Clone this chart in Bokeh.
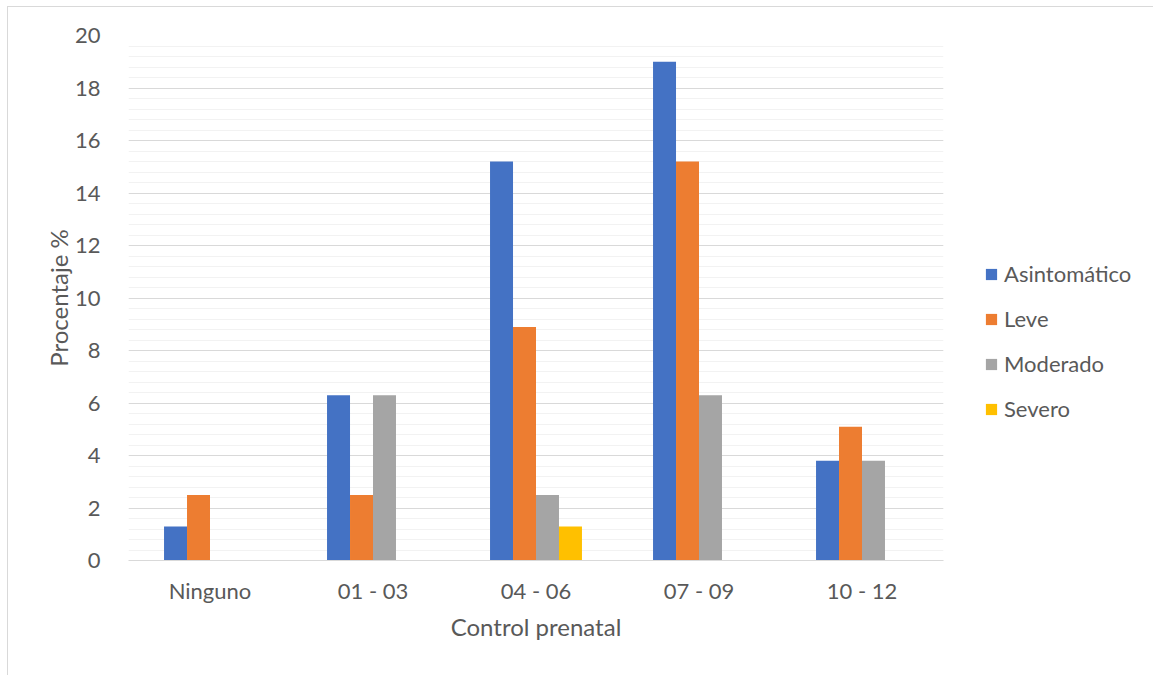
from bokeh.plotting import figure
from bokeh.models import (ColumnDataSource, FactorRange, Range1d, SingleIntervalTicker,
                          Legend, LegendItem)
from bokeh.transform import dodge
from bokeh.embed import file_html
from bokeh.resources import INLINE

# Data: percentage of cases by number of prenatal check-ups and severity
categories = ["Ninguno", "01 - 03", "04 - 06", "07 - 09", "10 - 12"]
asintomatico = [1.3, 6.3, 15.2, 19.0, 3.8]
leve = [2.5, 2.5, 8.9, 15.2, 5.1]
moderado = [0.0, 6.3, 2.5, 6.3, 3.8]
severo = [0.0, 0.0, 1.3, 0.0, 0.0]
series_names = ["Asintomático", "Leve", "Moderado", "Severo"]
series_colors = ["#4472C4", "#ED7D31", "#A5A5A5", "#FFC000"]
y_ticks = [0, 2, 4, 6, 8, 10, 12, 14, 16, 18, 20]

FONT = "Lato"
TEXT = "#595959"

source = ColumnDataSource(dict(cat=categories, a=asintomatico, l=leve,
                               m=moderado, s=severo))

p = figure(
    x_range=FactorRange(*categories, range_padding=0),
    y_range=Range1d(0, 20),
    frame_width=815, frame_height=525,
    min_border_left=120, min_border_right=210,
    min_border_top=28, min_border_bottom=115,
    output_backend="svg", toolbar_location=None,
)
p.styles = {"border-top": "1px solid #d9d9d9", "border-left": "1px solid #d9d9d9",
            "margin-left": "7px", "margin-top": "6px"}
p.outline_line_color = None
p.background_fill_color = "white"
p.border_fill_color = "white"

bar_w = 0.141
cols = ["a", "l", "m", "s"]
offsets = [-1.5 * bar_w, -0.5 * bar_w, 0.5 * bar_w, 1.5 * bar_w]
renderers = []
for col, off, color in zip(cols, offsets, series_colors):
    r = p.vbar(x=dodge("cat", off, range=p.x_range), top=col, width=bar_w,
               source=source, fill_color=color, line_color=None)
    renderers.append(r)

# Grid
p.xgrid.grid_line_color = None
p.ygrid.ticker = SingleIntervalTicker(interval=2, num_minor_ticks=5)
p.ygrid.grid_line_color = "#d9d9d9"
p.ygrid.grid_line_width = 1
p.ygrid.minor_grid_line_color = "#f2f2f2"
p.ygrid.minor_grid_line_width = 1

# Axes
p.yaxis.ticker = y_ticks
p.yaxis.axis_line_color = None
p.yaxis.major_tick_line_color = None
p.yaxis.minor_tick_line_color = None
p.yaxis.major_label_standoff = 22
p.yaxis.axis_label = "Procentaje %"
p.yaxis.axis_label_standoff = -1

p.xaxis.axis_line_color = "#d9d9d9"
p.xaxis.major_tick_line_color = None
p.xaxis.minor_tick_line_color = None
p.xaxis.major_label_standoff = 10
p.xaxis.axis_label = "Control prenatal"
p.xaxis.axis_label_standoff = 5

for ax in (p.xaxis[0], p.yaxis[0]):
    ax.major_label_text_font = FONT
    ax.major_label_text_font_size = "22px"
    ax.major_label_text_color = TEXT
    ax.axis_label_text_font = FONT
    ax.axis_label_text_font_size = "24px"
    ax.axis_label_text_color = TEXT
    ax.axis_label_text_font_style = "normal"

legend = Legend(
    items=[LegendItem(label=n, renderers=[r]) for n, r in zip(series_names, renderers)],
    location=(41, 138),
    orientation="vertical",
    glyph_width=14, glyph_height=14,
    label_standoff=6, spacing=18,
    padding=0, margin=0,
    border_line_color=None, background_fill_alpha=0,
    label_text_font=FONT, label_text_font_size="22px", label_text_color=TEXT,
)
p.add_layout(legend, "right")

open("out.html", "w").write(file_html(p, INLINE))
